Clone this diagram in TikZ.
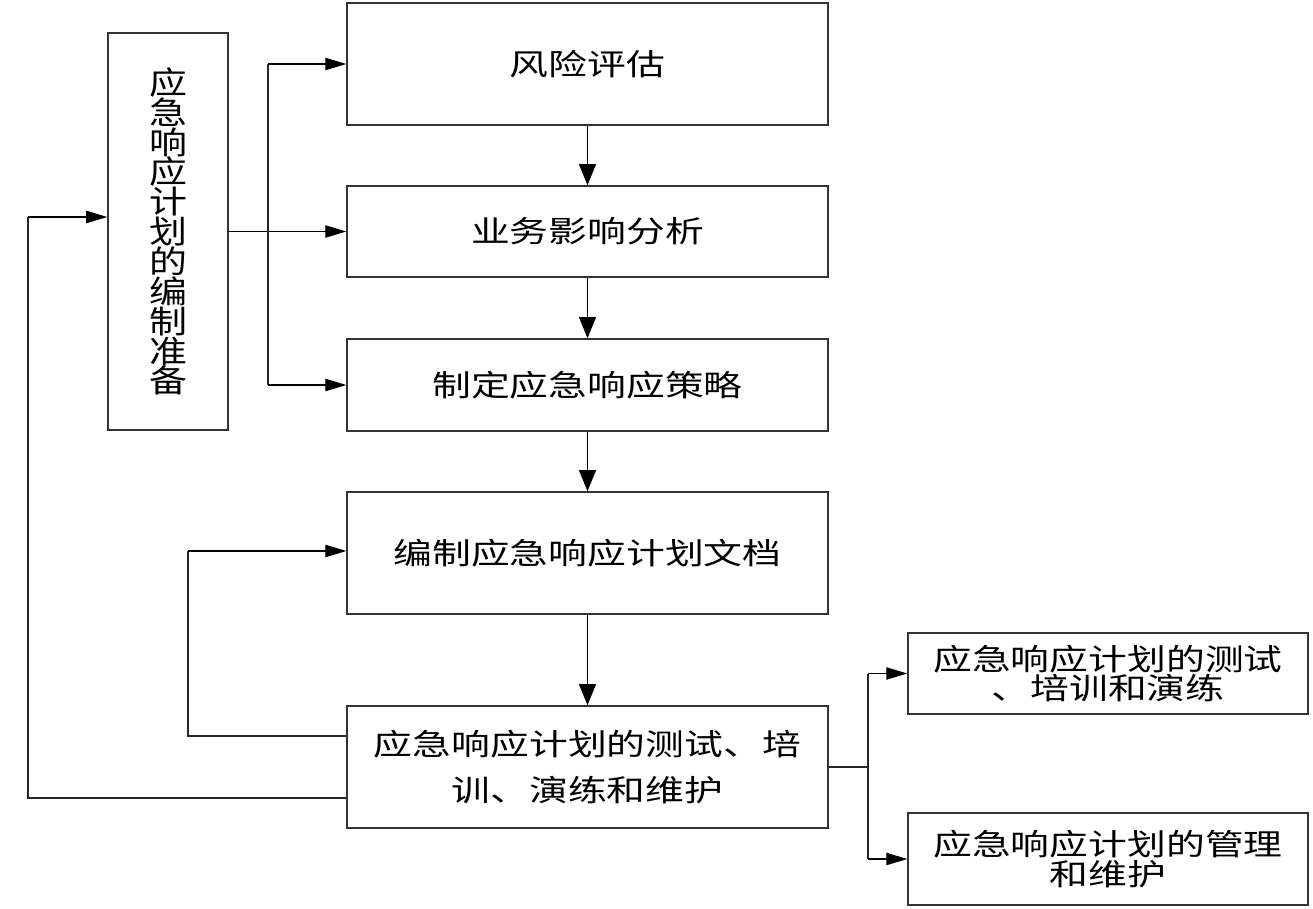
\documentclass[tikz,border=0pt]{standalone}
\usepackage{fontspec}
\usepackage{tikz}
\usetikzlibrary{calc,positioning,arrows.meta}
\newfontfamily\cjk{Noto Sans CJK SC}[FakeStretch=1.3]
\newfontfamily\cjkv{Noto Sans CJK SC}[FakeStretch=1.2]
\tikzstyle{stage}     = [rectangle, draw=black!80, line width=0.8pt, minimum width=9.62cm, text centered, align=center, font=\cjk\fontsize{17}{17}\selectfont, inner sep=0pt]
\tikzstyle{side}      = [rectangle, draw=black!80, line width=0.8pt, minimum width=8cm, text centered, align=center, font=\cjk\fontsize{17}{17}\selectfont, inner sep=0pt]
\tikzstyle{arrow}     = [line width=1pt,-{Triangle[length=12pt,width=9.5pt]}]
\tikzstyle{harrow}    = [line width=0.8pt,-{Triangle[length=12pt,width=7pt]}]
\tikzstyle{line}      = [line width=0.8pt, draw=black!85]
\begin{document}
\begin{tikzpicture}[x=0.02cm,y=-0.02cm]
		\useasboundingbox (0,0) rectangle (1313,909);
		\node[rectangle, draw=black!80, line width=0.8pt, minimum width=2.4cm, minimum height=7.94cm, align=center, inner sep=0pt,
			font=\cjkv\fontsize{18}{17}\selectfont] (prep) at (168,231.5)
			{应\\急\\响\\应\\计\\划\\的\\编\\制\\准\\备};
		\node[stage, minimum height=2.44cm] (risk)  at (587.5,64)    {风险评估};
		\node[stage, minimum height=1.82cm] (bia)   at (587.5,231.5) {业务影响分析};
		\node[stage, minimum height=1.84cm] (strat) at (587.5,385)   {制定应急响应策略};
		\node[stage, minimum height=2.44cm] (doc)   at (587.5,553)   {编制应急响应计划文档};
		\node[stage, minimum height=2.44cm, font=\cjk\fontsize{17}{26.6}\selectfont] (test) at (587.5,767)
			{应急响应计划的测试、培\\训、演练和维护};
		\node[side, minimum height=1.62cm] (drill) at (1108,673.5) {应急响应计划的测试\\、培训和演练};
		\node[side, minimum height=1.84cm] (maint) at (1108,859)   {应急响应计划的管理\\和维护};

		\coordinate (fork)  at (268,231.5);
		\coordinate (backA) at (188,551);
		\coordinate (backB) at (28,217);
		\coordinate (split) at (868,767);

		\draw[harrow] (prep.east) -- (bia.west);
		\draw[line] (fork |- risk.west) -- (fork |- strat.west);
		\draw[harrow] (fork |- risk.west) -- (risk.west);
		\draw[harrow] (fork |- strat.west) -- (strat.west);

		\draw[arrow] (risk.south) -- (bia.north);
		\draw[arrow] (bia.south) -- (strat.north);
		\draw[arrow] (strat.south) -- (doc.north);
		\draw[arrow] (doc.south) -- (test.north);

		\draw[line] ($(test.north west)!0.25!(test.south west)$) -| (backA);
		\draw[harrow] (backA) -- (backA -| doc.west);
		\draw[line] ($(test.north west)!0.75!(test.south west)$) -| (backB);
		\draw[harrow] (backB) -- (backB -| prep.west);

		\draw[line] (test.east) -- (split);
		\draw[line] (split |- drill.west) -- (split |- maint.west);
		\draw[harrow] (split |- drill.west) -- (drill.west);
		\draw[harrow] (split |- maint.west) -- (maint.west);
	\end{tikzpicture}
\end{document}
